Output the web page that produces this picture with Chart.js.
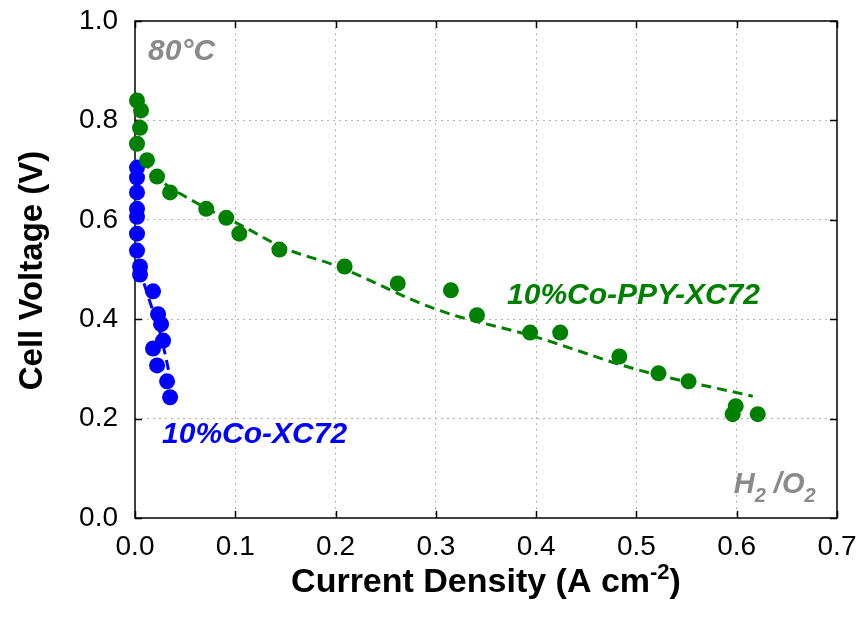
<!DOCTYPE html>
<html>
<head>
<meta charset="utf-8">
<script src="https://cdn.jsdelivr.net/npm/chart.js@4/dist/chart.umd.min.js"></script>
<style>
  html, body { margin: 0; padding: 0; background: #fff; }
  #wrap { width: 865px; height: 625px; }
</style>
</head>
<body>
<div id="wrap"><canvas id="c" width="865" height="625"></canvas></div>
<script>
// ---- data ----
const ppyCurrent = [0.002, 0.006, 0.005, 0.002, 0.012, 0.022, 0.035, 0.071, 0.091, 0.104, 0.144, 0.209, 0.262, 0.315, 0.341, 0.394, 0.424, 0.483, 0.522, 0.552, 0.596, 0.599, 0.621];
const ppyVoltage = [0.84, 0.82, 0.785, 0.753, 0.72, 0.687, 0.655, 0.622, 0.604, 0.572, 0.54, 0.506, 0.472, 0.458, 0.408, 0.373, 0.373, 0.325, 0.291, 0.275, 0.209, 0.225, 0.209];
const ppyFitCurrent = [0.008, 0.02, 0.035, 0.05, 0.08, 0.1, 0.15, 0.2, 0.3, 0.4, 0.5, 0.616];
const ppyFitVoltage = [0.72, 0.69, 0.665, 0.647, 0.614, 0.595, 0.542, 0.508, 0.42, 0.364, 0.299, 0.245];

const coCurrent = [0.002, 0.002, 0.002, 0.002, 0.002, 0.002, 0.002, 0.005, 0.005, 0.018, 0.023, 0.026, 0.028, 0.018, 0.022, 0.032, 0.035];
const coVoltage = [0.705, 0.685, 0.655, 0.622, 0.606, 0.572, 0.538, 0.506, 0.49, 0.456, 0.41, 0.39, 0.357, 0.341, 0.307, 0.275, 0.243];
const coFitCurrent = [0.009, 0.016, 0.023, 0.03, 0.036];
const coFitVoltage = [0.472, 0.428, 0.388, 0.33, 0.272];

const xTicks = [0.0, 0.1, 0.2, 0.3, 0.4, 0.5, 0.6, 0.7];
const yTicks = [0.0, 0.2, 0.4, 0.6, 0.8, 1.0];

const xTitleMain = 'Current Density (A cm';
const xTitleSup = '-2';
const xTitleEnd = ')';
const yTitle = 'Cell Voltage (V)';

const labelTemp = '80°C';
const labelPPY = '10%Co-PPY-XC72';
const labelCo = '10%Co-XC72';

// ---- styling ----
const GREEN = '#008000';
const BLUE = '#0000ff';
const GRAY = '#8a8a8a';
const FONT = '"Liberation Sans", Arial, Helvetica, sans-serif';

const toXY = (xs, ys) => xs.map((x, i) => ({x: x, y: ys[i]}));

const frame = {
  id: 'frame',
  beforeDatasetsDraw(chart) {
    const {ctx, chartArea: a, scales: {x, y}} = chart;
    ctx.save();
    ctx.strokeStyle = '#000';
    ctx.lineWidth = 1.5;
    ctx.strokeRect(a.left, a.top, a.right - a.left, a.bottom - a.top);
    const tl = 7;
    ctx.beginPath();
    xTicks.forEach(v => {
      const px = Math.round(x.getPixelForValue(v)) + 0.5;
      ctx.moveTo(px, a.bottom); ctx.lineTo(px, a.bottom - tl);
      ctx.moveTo(px, a.top); ctx.lineTo(px, a.top + tl);
    });
    yTicks.forEach(v => {
      const py = Math.round(y.getPixelForValue(v)) + 0.5;
      ctx.moveTo(a.left, py); ctx.lineTo(a.left + tl, py);
      ctx.moveTo(a.right, py); ctx.lineTo(a.right - tl, py);
    });
    ctx.stroke();
    ctx.restore();
  },
  afterDraw(chart) {
    const {ctx, chartArea: a, scales: {x, y}} = chart;
    ctx.save();
    ctx.fillStyle = '#000';
    // y title
    ctx.font = 'bold 33px ' + FONT;
    ctx.textAlign = 'center';
    ctx.textBaseline = 'alphabetic';
    ctx.translate(42, (a.top + a.bottom) / 2 + 1);
    ctx.rotate(-Math.PI / 2);
    ctx.fillText(yTitle, 0, 0);
    ctx.restore();

    // x title with superscript
    ctx.save();
    ctx.fillStyle = '#000';
    ctx.textBaseline = 'alphabetic';
    ctx.textAlign = 'left';
    const big = 'bold 34px ' + FONT, small = 'bold 22px ' + FONT;
    ctx.font = big; const w1 = ctx.measureText(xTitleMain).width; const w3 = ctx.measureText(xTitleEnd).width;
    ctx.font = small; const w2 = ctx.measureText(xTitleSup).width;
    const total = w1 + w2 + w3;
    let sx = (a.left + a.right) / 2 - total / 2;
    const by = 592;
    ctx.font = big; ctx.fillText(xTitleMain, sx, by); sx += w1;
    ctx.font = small; ctx.fillText(xTitleSup, sx, by - 13); sx += w2;
    ctx.font = big; ctx.fillText(xTitleEnd, sx, by);
    ctx.restore();

    // annotations
    ctx.save();
    ctx.textBaseline = 'alphabetic';
    ctx.textAlign = 'left';
    const ann = 'italic bold 30px ' + FONT;
    ctx.font = ann;
    ctx.fillStyle = GRAY;
    ctx.fillText(labelTemp, x.getPixelForValue(0.013), y.getPixelForValue(0.9215));
    ctx.fillStyle = GREEN;
    ctx.fillText(labelPPY, x.getPixelForValue(0.371), y.getPixelForValue(0.4306));
    ctx.fillStyle = BLUE;
    ctx.fillText(labelCo, x.getPixelForValue(0.027), y.getPixelForValue(0.151));
    // H2/O2
    ctx.fillStyle = GRAY;
    let hx = x.getPixelForValue(0.597);
    const hy = y.getPixelForValue(0.0503);
    const hFont = 'italic bold 29px ' + FONT;
    const sub = 'italic bold 20px ' + FONT;
    const parts = [['H', hFont, 0], ['2', sub, 9], [' /', hFont, 0], ['O', hFont, 0], ['2', sub, 9]];
    parts.forEach(([t, f, dy]) => {
      ctx.font = f;
      ctx.fillText(t, hx, hy + dy);
      hx += ctx.measureText(t).width;
    });
    ctx.restore();
  }
};

new Chart(document.getElementById('c'), {
  type: 'scatter',
  data: {
    datasets: [
      {
        label: '10%Co-PPY-XC72',
        data: toXY(ppyCurrent, ppyVoltage),
        showLine: false,
        pointRadius: 8,
        pointHoverRadius: 8,
        pointBackgroundColor: GREEN,
        pointBorderColor: GREEN,
        pointBorderWidth: 0,
        clip: false
      },
      {
        label: 'PPY fit',
        data: toXY(ppyFitCurrent, ppyFitVoltage),
        showLine: true,
        pointRadius: 0,
        borderColor: GREEN,
        borderWidth: 3,
        borderDash: [10, 6],
        cubicInterpolationMode: 'monotone',
        clip: false
      },
      {
        label: '10%Co-XC72',
        data: toXY(coCurrent, coVoltage),
        showLine: false,
        pointRadius: 8,
        pointHoverRadius: 8,
        pointBackgroundColor: BLUE,
        pointBorderColor: BLUE,
        pointBorderWidth: 0,
        clip: false
      },
      {
        label: 'Co fit',
        data: toXY(coFitCurrent, coFitVoltage),
        showLine: true,
        pointRadius: 0,
        borderColor: BLUE,
        borderWidth: 3,
        borderDash: [10, 6],
        cubicInterpolationMode: 'monotone',
        clip: false
      }
    ]
  },
  options: {
    responsive: false,
    animation: false,
    devicePixelRatio: 1,
    layout: { padding: { top: 21, right: 28, left: 0, bottom: 0 } },
    plugins: { legend: { display: false }, tooltip: { enabled: false } },
    scales: {
      x: {
        type: 'linear',
        min: 0, max: 0.7,
        afterFit(s) { s.height = 107; s.paddingLeft = 0; s.paddingRight = 0; },
        afterBuildTicks(s) { s.ticks = xTicks.map(v => ({value: v})); },
        ticks: {
          color: '#000',
          font: { family: FONT, size: 28 },
          padding: 12,
          maxRotation: 0,
          callback: v => v.toFixed(1)
        },
        grid: {
          drawTicks: false,
          lineWidth: 1,
          color: ctx => (ctx.tick && (ctx.tick.value === 0 || Math.abs(ctx.tick.value - 0.7) < 1e-9)) ? 'rgba(0,0,0,0)' : '#b4b4b4'
        },
        border: { display: false, dash: [2, 4] }
      },
      y: {
        type: 'linear',
        min: 0, max: 1.0,
        afterFit(s) { s.width = 135; s.paddingTop = 0; s.paddingBottom = 0; },
        afterBuildTicks(s) { s.ticks = yTicks.map(v => ({value: v})); },
        ticks: {
          color: '#000',
          font: { family: FONT, size: 28 },
          padding: 17,
          callback: v => v.toFixed(1)
        },
        grid: {
          drawTicks: false,
          lineWidth: 1,
          color: ctx => (ctx.tick && (ctx.tick.value === 0 || Math.abs(ctx.tick.value - 1) < 1e-9)) ? 'rgba(0,0,0,0)' : '#b4b4b4'
        },
        border: { display: false, dash: [2, 4] }
      }
    }
  },
  plugins: [frame]
});
</script>
</body>
</html>
